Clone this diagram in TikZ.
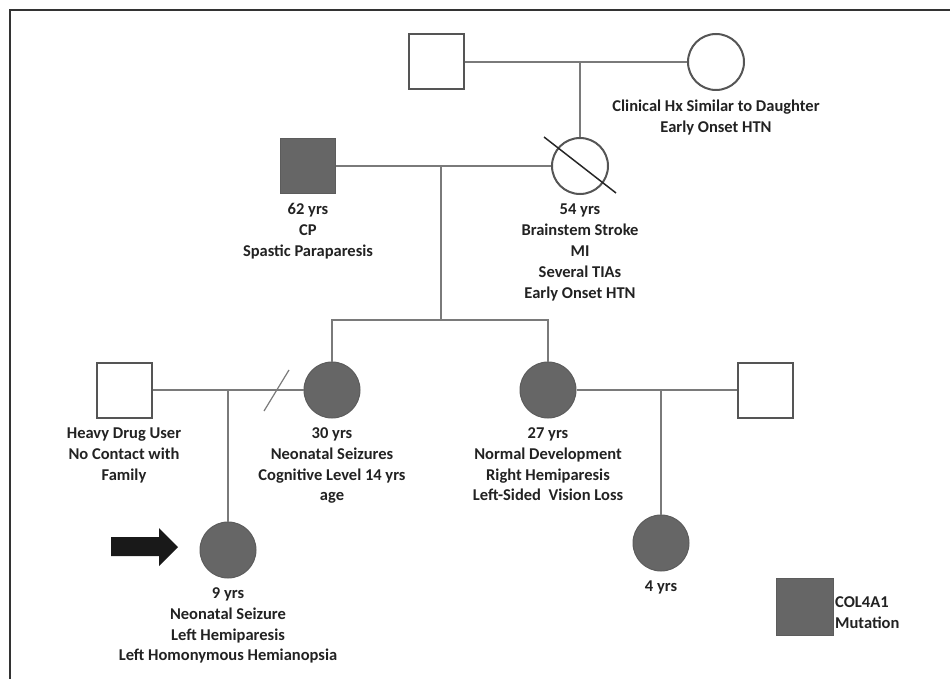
\documentclass[tikz,border=0pt]{standalone}
\usepackage{fontspec}
\setmainfont{Carlito}
\usepackage{tikz}
\usetikzlibrary{positioning}
\definecolor{affected}{HTML}{666666}
\definecolor{linegray}{HTML}{7A7A7A}
\definecolor{outline}{HTML}{555555}
\definecolor{ink}{HTML}{222222}

\begin{document}
\begin{tikzpicture}[x=1pt, y=-1pt, node distance=8pt,
  male/.style={rectangle,draw=outline,line width=2pt,minimum size=55pt,inner sep=0pt},
  female/.style={circle,draw=outline,line width=2pt,minimum size=56pt,inner sep=0pt},
  affect/.style={fill=affected,draw=affected!90!black,line width=1pt},
  info/.style={align=center,text=ink,inner sep=1pt,font=\bfseries\fontsize{16.5}{20.8}\selectfont},
  rel/.style={draw=linegray,line width=1.4pt}]

\useasboundingbox (0,0) rectangle (950,679);
\draw[line width=2pt, black!80] (10,679) -- (10,10) -- (950,10);

% generation I
\node[male] (ggpa) at (436,62) {};
\node[female] (ggma) at (716,62) {};
\node[info, below=of ggma] (ggma-txt) {Clinical Hx Similar to Daughter\\Early Onset HTN};

% generation II
\node[male, affect] (gpa) at (308,166) {};
\node[female] (gma) at (580,166) {};
\node[info, below=of gpa] (gpa-txt) {62 yrs\\CP\\Spastic Paraparesis};
\node[info, below=of gma] (gma-txt) {54 yrs\\Brainstem Stroke\\MI\\Several TIAs\\Early Onset HTN};

% generation III
\node[male] (dad) at (124,390) {};
\node[female, affect] (mom) at (332,390) {};
\node[female, affect] (aunt) at (548,390) {};
\node[male] (uncle) at (765,390) {};
\node[info, below=of dad] (dad-txt) {Heavy Drug User\\No Contact with\\Family};
\node[info, below=of mom] (mom-txt) {30 yrs\\Neonatal Seizures\\Cognitive Level 14 yrs\\age};
\node[info, below=of aunt] (aunt-txt) {27 yrs\\Normal Development\\Right Hemiparesis\\Left-Sided~ Vision Loss};

% generation IV
\node[female, affect] (proband) at (228,550) {};
\node[female, affect] (cousin) at (661,543) {};
\node[info, below=of proband] (proband-txt) {9 yrs\\Neonatal Seizure\\Left Hemiparesis\\Left Homonymous Hemianopsia};
\node[info, below=of cousin] (cousin-txt) {4 yrs};

% proband arrow
\fill[black!90] (111,537) -- (159,537) -- (159,528) -- (178,547) -- (159,566) -- (159,556) -- (111,556) -- cycle;

% legend
\node[male, affect, minimum size=57pt] (key) at (805,607) {};
\node[info, anchor=west, align=left] (key-txt) at ([yshift=-6pt]key.east) {COL4A1\\Mutation};

% couples and descent
\coordinate (m1) at (580,62);
\coordinate (m2) at (441,166);
\coordinate (sib) at (441,320);
\coordinate (m3) at (228,390);
\coordinate (m4) at (661,390);
\coordinate (dv) at (277,390);

\path[rel]
(ggpa) edge (ggma)
(m1) edge (gma)
(gpa) edge (gma)
(m2) edge (sib)
(dad) edge (mom)
(m3) edge (proband)
(aunt) edge (uncle)
(m4) edge (cousin)
;
\draw[rel] (mom) |- (sib) -| (aunt);

% divorce and deceased marks
\draw[rel, line width=1.2pt] ([shift={(-13,21)}]dv) -- ([shift={(12,-20)}]dv);
\draw[line width=1.5pt, black!85] ([shift={(-36,-29)}]gma.center) -- ([shift={(36,27)}]gma.center);

\end{tikzpicture}
\end{document}
